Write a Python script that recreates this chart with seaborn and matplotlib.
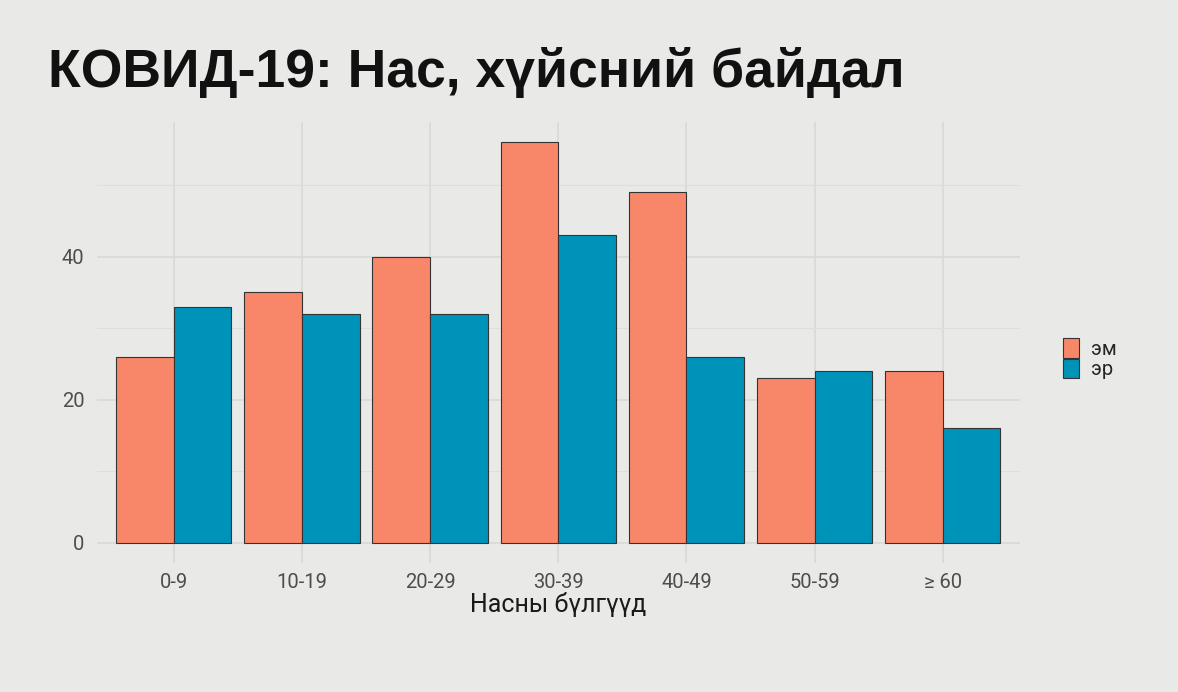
import numpy as np
import pandas as pd
import matplotlib
matplotlib.use('Agg')
import matplotlib.pyplot as plt
import seaborn as sns

# Values
age_groups = ['0-9', '10-19', '20-29', '30-39', '40-49', '50-59', '≥ 60']
female = [26, 35, 40, 56, 49, 23, 24]
male = [33, 32, 32, 43, 26, 24, 16]
sex_labels = ['эм', 'эр']
sex_colors = ['#F8876A', '#0093B9']

bg = '#E9E9E8'

df = pd.DataFrame({
    'age': age_groups * 2,
    'sex': [sex_labels[0]] * len(age_groups) + [sex_labels[1]] * len(age_groups),
    'count': female + male,
})

sns.set_theme(style='white')
plt.rcParams['font.family'] = ['Roboto', 'DejaVu Sans']

fig = plt.figure(figsize=(11.78, 6.92), dpi=100, facecolor=bg)
ax = fig.add_axes([0.0823, 0.1864, 0.7832, 0.6373])
ax.set_facecolor(bg)

sns.barplot(data=df, x='age', y='count', hue='sex', order=age_groups,
            hue_order=sex_labels, palette=sex_colors, width=0.9, gap=0,
            edgecolor='#333333', linewidth=0.8, saturation=1, ax=ax, zorder=3)

# ggplot-like expansion
ax.set_xlim(-0.6, 6.6)
ax.set_ylim(-2.8, 58.8)
ax.set_yticks([0, 20, 40])
ax.set_yticks([10, 30, 50], minor=True)
ax.grid(axis='y', which='major', color='#D9D9D9', linewidth=1.2, zorder=0)
ax.grid(axis='y', which='minor', color='#DEDEDE', linewidth=0.8, zorder=0)
ax.grid(axis='x', which='major', color='#D9D9D9', linewidth=1.2, zorder=0)
ax.set_axisbelow(True)
for s in ax.spines.values():
    s.set_visible(False)

ax.tick_params(axis='both', which='both', length=0, labelsize=14.5,
               labelcolor='#4D4D4D')
ax.tick_params(axis='x', pad=7)
ax.tick_params(axis='y', pad=9)
ax.set_xlabel('Насны бүлгүүд', fontsize=18, color='#1A1A1A', labelpad=0)
ax.set_ylabel('')

ax.legend(title=None, loc='center left', bbox_to_anchor=(1.038, 0.463),
          frameon=False, fontsize=14.5, handlelength=0.8, handleheight=1.1,
          handletextpad=0.6, labelspacing=0.0, borderaxespad=0)

fig.text(0.041, 0.895, 'КОВИД-19: Нас, хүйсний байдал', fontsize=38.5,
         fontweight='bold', family=['Liberation Sans', 'DejaVu Sans'],
         color='#111111', va='center', ha='left')

plt.savefig('out.png', dpi=100, facecolor=bg)
